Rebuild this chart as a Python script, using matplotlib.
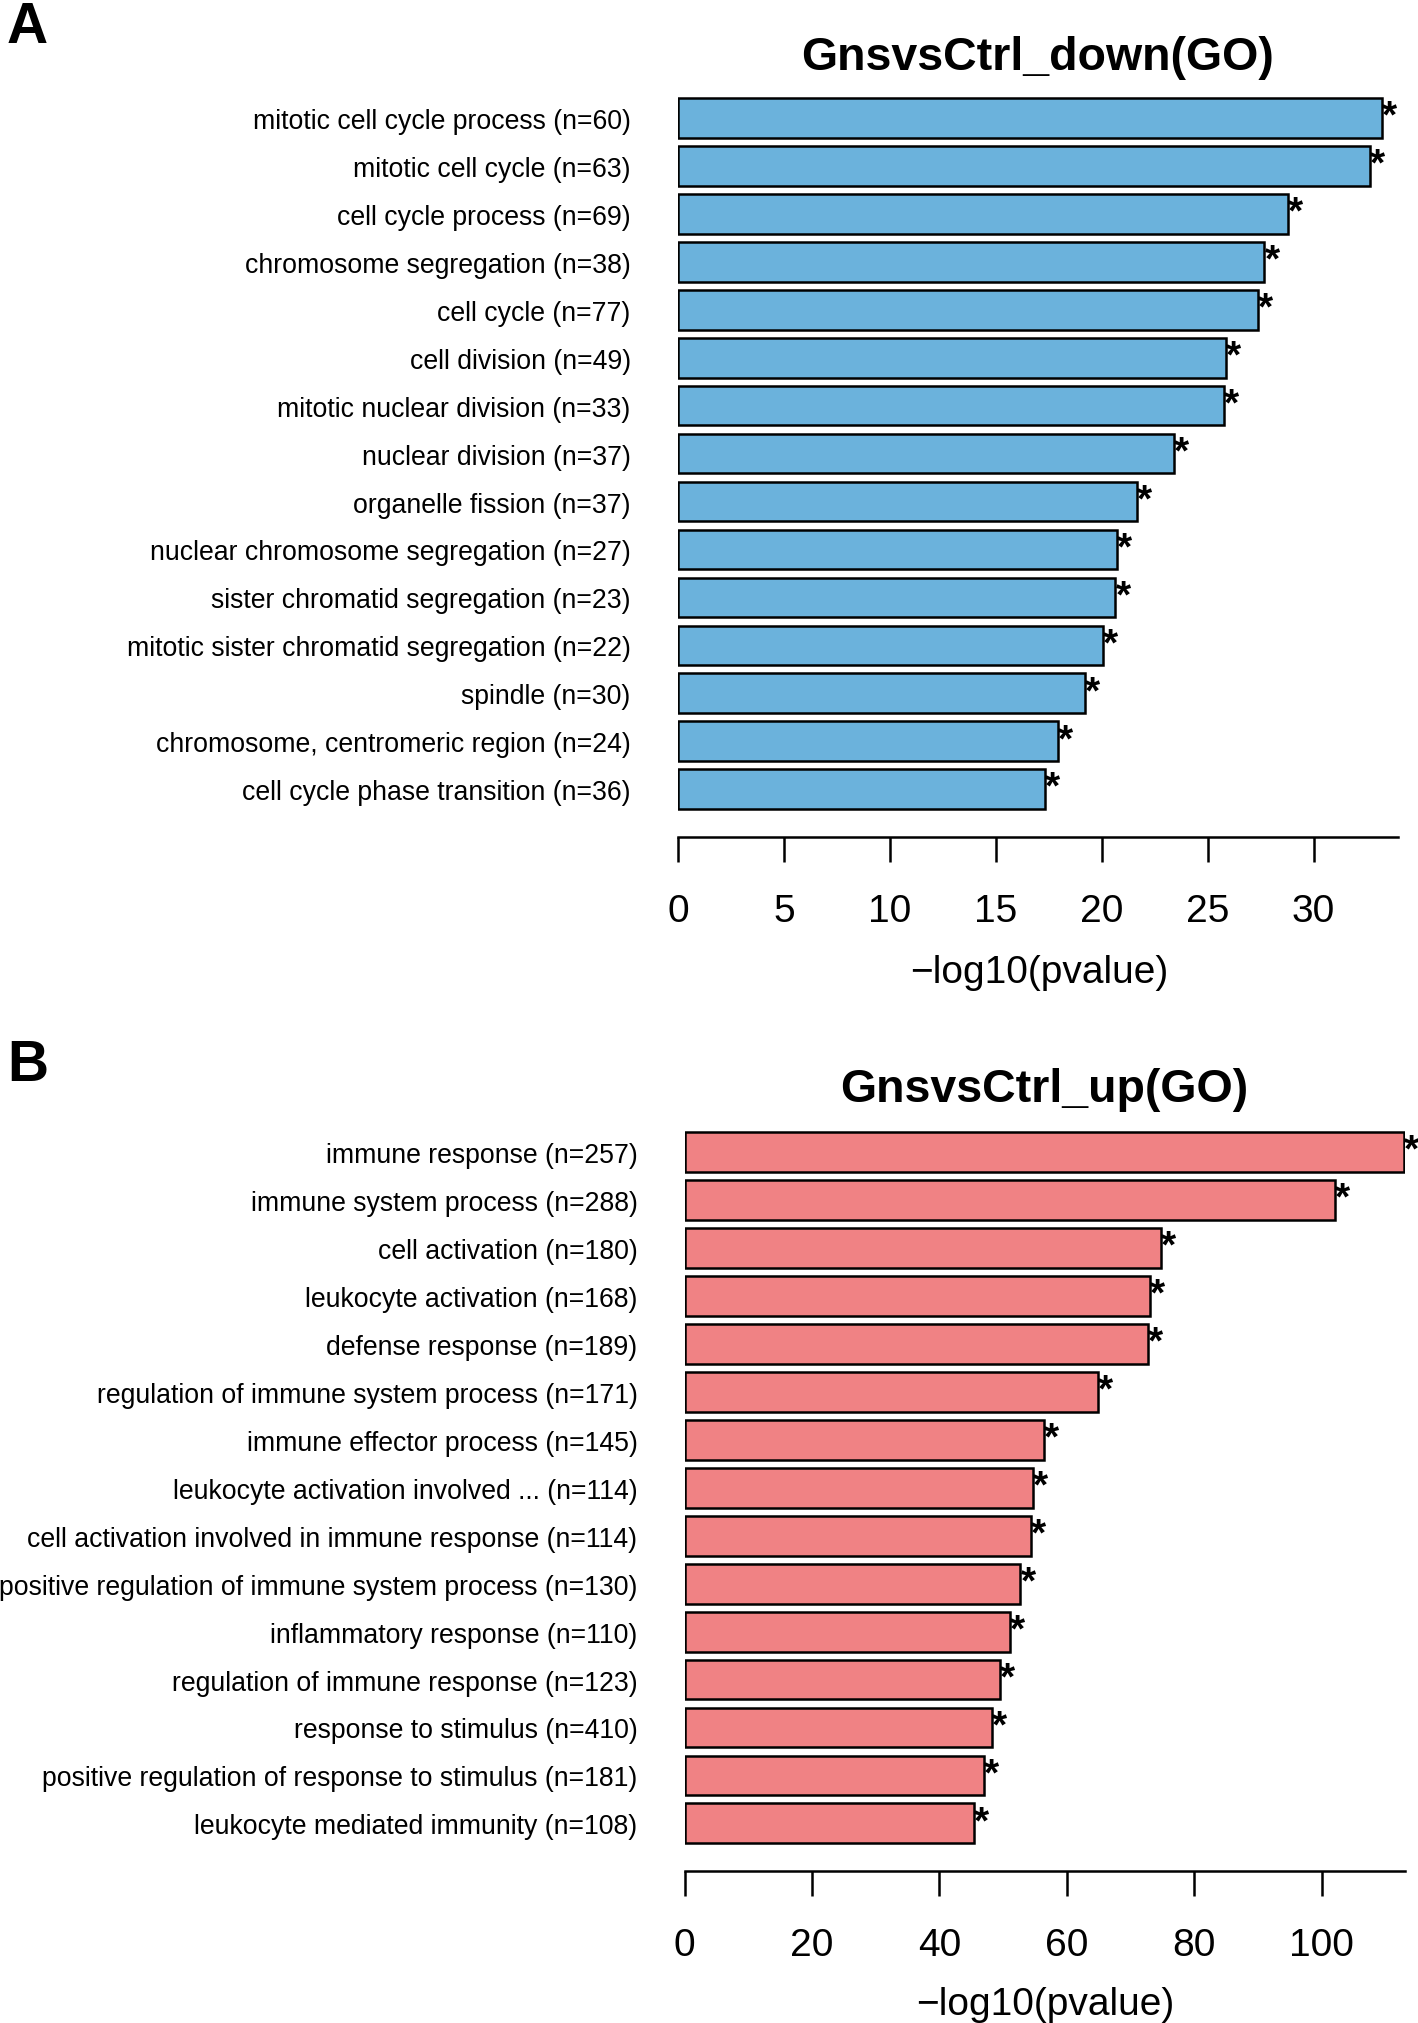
import numpy as np
import matplotlib.pyplot as plt

plt.rcParams['font.family'] = ['Liberation Sans', 'DejaVu Sans']

# panel A: down-regulated GO terms
down_terms = ['mitotic cell cycle process', 'mitotic cell cycle', 'cell cycle process',
              'chromosome segregation', 'cell cycle', 'cell division',
              'mitotic nuclear division', 'nuclear division', 'organelle fission',
              'nuclear chromosome segregation', 'sister chromatid segregation',
              'mitotic sister chromatid segregation', 'spindle',
              'chromosome, centromeric region', 'cell cycle phase transition']
down_counts = [60, 63, 69, 38, 77, 49, 33, 37, 37, 27, 23, 22, 30, 24, 36]
down_logp = [33.24, 32.67, 28.8, 27.68, 27.38, 25.87, 25.78, 23.39, 21.68,
             20.72, 20.65, 20.06, 19.19, 17.93, 17.34]
down_ticks = [0, 5, 10, 15, 20, 25, 30]

# panel B: up-regulated GO terms
up_terms = ['immune response', 'immune system process', 'cell activation',
            'leukocyte activation', 'defense response',
            'regulation of immune system process', 'immune effector process',
            'leukocyte activation involved ...',
            'cell activation involved in immune response',
            'positive regulation of immune system process',
            'inflammatory response', 'regulation of immune response',
            'response to stimulus', 'positive regulation of response to stimulus',
            'leukocyte mediated immunity']
up_counts = [257, 288, 180, 168, 189, 171, 145, 114, 114, 130, 110, 123, 410, 181, 108]
up_logp = [112.9, 102.1, 74.7, 73.0, 72.7, 64.9, 56.4, 54.6, 54.3, 52.7,
           51.1, 49.5, 48.3, 47.0, 45.4]
up_ticks = [0, 20, 40, 60, 80, 100]

W, H = 1418, 2024
fig = plt.figure(figsize=(W / 100, H / 100), dpi=100)


def px_axes(left, right, top, bottom):
    return fig.add_axes([left / W, 1 - bottom / H, (right - left) / W, (bottom - top) / H])


def draw_panel(ax, terms, counts, vals, color, xmax, xticks):
    n = len(terms)
    pos = np.arange(n)[::-1]
    ax.barh(pos, vals, height=0.83, color=color, edgecolor='black', linewidth=1.8)
    for p, v in zip(pos, vals):
        ax.text(v, p - 0.18, '*', fontsize=28, fontweight='bold', ha='left',
                va='baseline', clip_on=False)
    ax.set_yticks(pos)
    ax.set_yticklabels([f'{t} (n={c})' for t, c in zip(terms, counts)], fontsize=19.2)
    ax.tick_params(axis='y', length=0, pad=34)
    ax.set_xlim(0, xmax)
    ax.set_ylim(-1, n - 0.4)
    ax.set_xticks(xticks)
    ax.tick_params(axis='x', length=18, width=1.8, pad=22, labelsize=28, direction='out')
    for s in ['top', 'right', 'left']:
        ax.spines[s].set_visible(False)
    ax.spines['bottom'].set_linewidth(1.8)
    ax.patch.set_alpha(0)


axA = px_axes(677.9, 1398.4, 90.0, 838.3)
draw_panel(axA, down_terms, down_counts, down_logp, '#6BB2DC', 34, down_ticks)

axB = px_axes(684.65, 1404.6, 1124.5, 1872.3)
draw_panel(axB, up_terms, up_counts, up_logp, '#F08284', 113, up_ticks)

# titles, axis labels, panel letters
fig.text(1038 / W, 1 - 70 / H, 'GnsvsCtrl_down(GO)', fontsize=33.5, fontweight='bold',
         ha='center', va='baseline')
fig.text(1044 / W, 1 - 1102 / H, 'GnsvsCtrl_up(GO)', fontsize=33.5, fontweight='bold',
         ha='center', va='baseline')
fig.text(1039 / W, 1 - 983 / H, '\u2212log10(pvalue)', fontsize=28, ha='center', va='baseline')
fig.text(1045 / W, 1 - 2015 / H, '\u2212log10(pvalue)', fontsize=28, ha='center', va='baseline')
fig.text(7 / W, 1 - 43 / H, 'A', fontsize=41, fontweight='bold', ha='left', va='baseline')
fig.text(7 / W, 1 - 1081 / H, 'B', fontsize=41, fontweight='bold', ha='left', va='baseline')

fig.savefig('out.png', dpi=100)
